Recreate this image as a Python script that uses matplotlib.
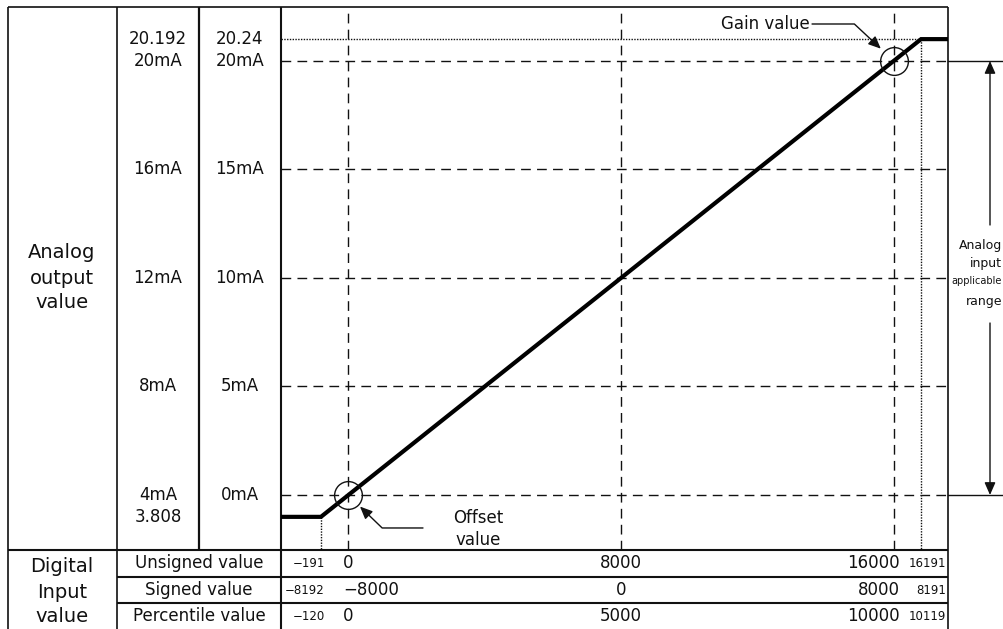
import numpy as np
import matplotlib
matplotlib.use("Agg")
import matplotlib.pyplot as plt
from matplotlib.transforms import blended_transform_factory

# digital input values (the unsigned value is used as x axis)
unsigned_vals = [-191, 0, 8000, 16000, 16191]
signed_vals = [-8192, -8000, 0, 8000, 8191]
percent_vals = [-120, 0, 5000, 10000, 10119]
row_names = ["Unsigned value", "Signed value", "Percentile value"]

# analog output levels (4~20mA scale is the y axis)
out_levels = [3.808, 4, 8, 12, 16, 20, 20.192]
labels_4_20 = ["3.808", "4mA", "8mA", "12mA", "16mA", "20mA", "20.192"]
labels_0_20 = ["", "0mA", "5mA", "10mA", "15mA", "20mA", "20.24"]

# conversion line: flat below offset, linear in between, flat above gain
line_x = [unsigned_vals[0], unsigned_vals[-1]]
line_y = [out_levels[0], out_levels[-1]]


def stretch_scale(lo, hi, k):
    # out-of-range part drawn k times wider so it can be seen
    def fwd(v):
        v = np.asarray(v, dtype=float)
        return np.where(v < lo, lo + (v - lo) * k, np.where(v > hi, hi + (v - hi) * k, v))

    def inv(v):
        v = np.asarray(v, dtype=float)
        return np.where(v < lo, lo + (v - lo) / k, np.where(v > hi, hi + (v - hi) / k, v))
    return fwd, inv


W, H = 1004, 629
fig = plt.figure(figsize=(W / 100, H / 100), dpi=100)

# frame axes in pixel units for the table lines and labels
frame = fig.add_axes([0, 0, 1, 1])
frame.set_xlim(0, W)
frame.set_ylim(H, 0)
frame.axis("off")

# chart area
cx0, cx1, cy0, cy1 = 281, 948, 7, 550
ax = fig.add_axes([cx0 / W, (H - cy1) / H, (cx1 - cx0) / W, (cy1 - cy0) / H])
ax.set_xscale("function", functions=stretch_scale(0, 16000, 4.15))
ax.set_yscale("function", functions=stretch_scale(4, 20, 4.2))
ax.set_xlim(-473, 16381)
ax.set_ylim(3.517, 20.474)
ax.axis("off")

ink = "#111111"
dash = (0, (7, 4.5))
dots = (0, (1, 1))

# table lines
def seg(x0, y0, x1, y1, lw=1.2):
    frame.plot([x0, x1], [y0, y1], color=ink, lw=lw, solid_capstyle="butt")

seg(8, 7, 948, 7)
seg(8, 550, 948, 550, 1.5)
seg(117, 577, 948, 577, 1.5)
seg(117, 603, 948, 603, 1.5)
seg(8, 7, 8, H)
seg(117, 7, 117, H)
seg(199, 7, 199, 550, 1.6)
seg(281, 7, 281, H, 1.5)
seg(948, 7, 948, H)

# grid
for v in unsigned_vals[1:4]:
    ax.axvline(v, color=ink, lw=1, ls=dash)
for lev in out_levels[1:6]:
    ax.axhline(lev, color=ink, lw=1, ls=dash)

xmin, xmax = ax.get_xlim()
ymin, ymax = ax.get_ylim()
ax.plot([xmin, line_x[1]], [line_y[1], line_y[1]], color=ink, lw=1, ls=dots)
ax.plot([line_x[1], line_x[1]], [line_y[1], ymin], color=ink, lw=1, ls=dots)
ax.plot([line_x[0], line_x[0]], [line_y[0], ymin], color=ink, lw=1, ls=dots)

ax.plot([xmin, line_x[0], line_x[1], xmax], [line_y[0], line_y[0], line_y[1], line_y[1]],
        color="black", lw=3, solid_joinstyle="miter")

# offset / gain circles
ax.plot([unsigned_vals[1], unsigned_vals[3]], [out_levels[1], out_levels[5]], "o",
        ms=20, mfc="none", mec=ink, mew=1, clip_on=False)

arrow = dict(arrowstyle="-|>,head_length=0.5,head_width=0.22", mutation_scale=15,
             color=ink, lw=1, shrinkA=0)
ax.annotate("", xy=(unsigned_vals[3], out_levels[5]), xytext=(-82, 37), textcoords="offset pixels",
            arrowprops=dict(arrow, connectionstyle="angle,angleA=0,angleB=137,rad=0", shrinkB=13))
frame.text(810, 24, "Gain value", ha="right", va="center", fontsize=12, color=ink)

ax.annotate("", xy=(unsigned_vals[1], out_levels[1]), xytext=(75, -33), textcoords="offset pixels",
            arrowprops=dict(arrow, connectionstyle="angle,angleA=0,angleB=136,rad=0", shrinkB=12))
frame.text(478, 529, "Offset\nvalue", ha="center", va="center", fontsize=12,
           linespacing=1.35, color=ink)

# analog output columns
rt = blended_transform_factory(frame.transData, ax.transData)
for lev, a, b in zip(out_levels, labels_4_20, labels_0_20):
    frame.text(158, lev, a, transform=rt, ha="center", va="center", fontsize=12, color=ink)
    frame.text(240, lev, b, transform=rt, ha="center", va="center", fontsize=12, color=ink)

frame.text(62, 278, "Analog\noutput\nvalue", ha="center", va="center", fontsize=14,
           linespacing=1.4, color=ink)
frame.text(62, 592, "Digital\nInput\nvalue", ha="center", va="center", fontsize=14,
           linespacing=1.4, color=ink)

# digital input table
tt = blended_transform_factory(ax.transData, frame.transData)
row_y = [563.5, 590, 616]
styles = [(8.5, "right", 4), (12, "left", -5), (12, "center", 0), (12, "right", 6), (8.5, "right", 25)]
for name, vals, y in zip(row_names, [unsigned_vals, signed_vals, percent_vals], row_y):
    frame.text(199, y, name, ha="center", va="center", fontsize=12, color=ink)
    for xv, v, (fs, ha, dx) in zip(unsigned_vals, vals, styles):
        ax.annotate(str(v).replace("-", "\u2212"), xy=(xv, y), xycoords=tt, xytext=(dx, 0),
                    textcoords="offset pixels", ha=ha, va="center", fontsize=fs,
                    color=ink, annotation_clip=False)

# applicable range at the right
for lev in (out_levels[1], out_levels[5]):
    frame.plot([948, W], [lev, lev], color=ink, lw=1, transform=rt)
frame.annotate("", xy=(990, out_levels[5]), xycoords=rt, xytext=(990, 225), textcoords="data",
               arrowprops=dict(arrow, shrinkB=0))
frame.annotate("", xy=(990, out_levels[1]), xycoords=rt, xytext=(990, 323), textcoords="data",
               arrowprops=dict(arrow, shrinkB=0))
frame.text(1002, 245, "Analog", ha="right", va="center", fontsize=9, color=ink)
frame.text(1002, 263, "input", ha="right", va="center", fontsize=9, color=ink)
frame.text(1002, 281, "applicable", ha="right", va="center", fontsize=7, color=ink)
frame.text(1002, 302, "range", ha="right", va="center", fontsize=9, color=ink)

fig.savefig("out.png", dpi=100)
